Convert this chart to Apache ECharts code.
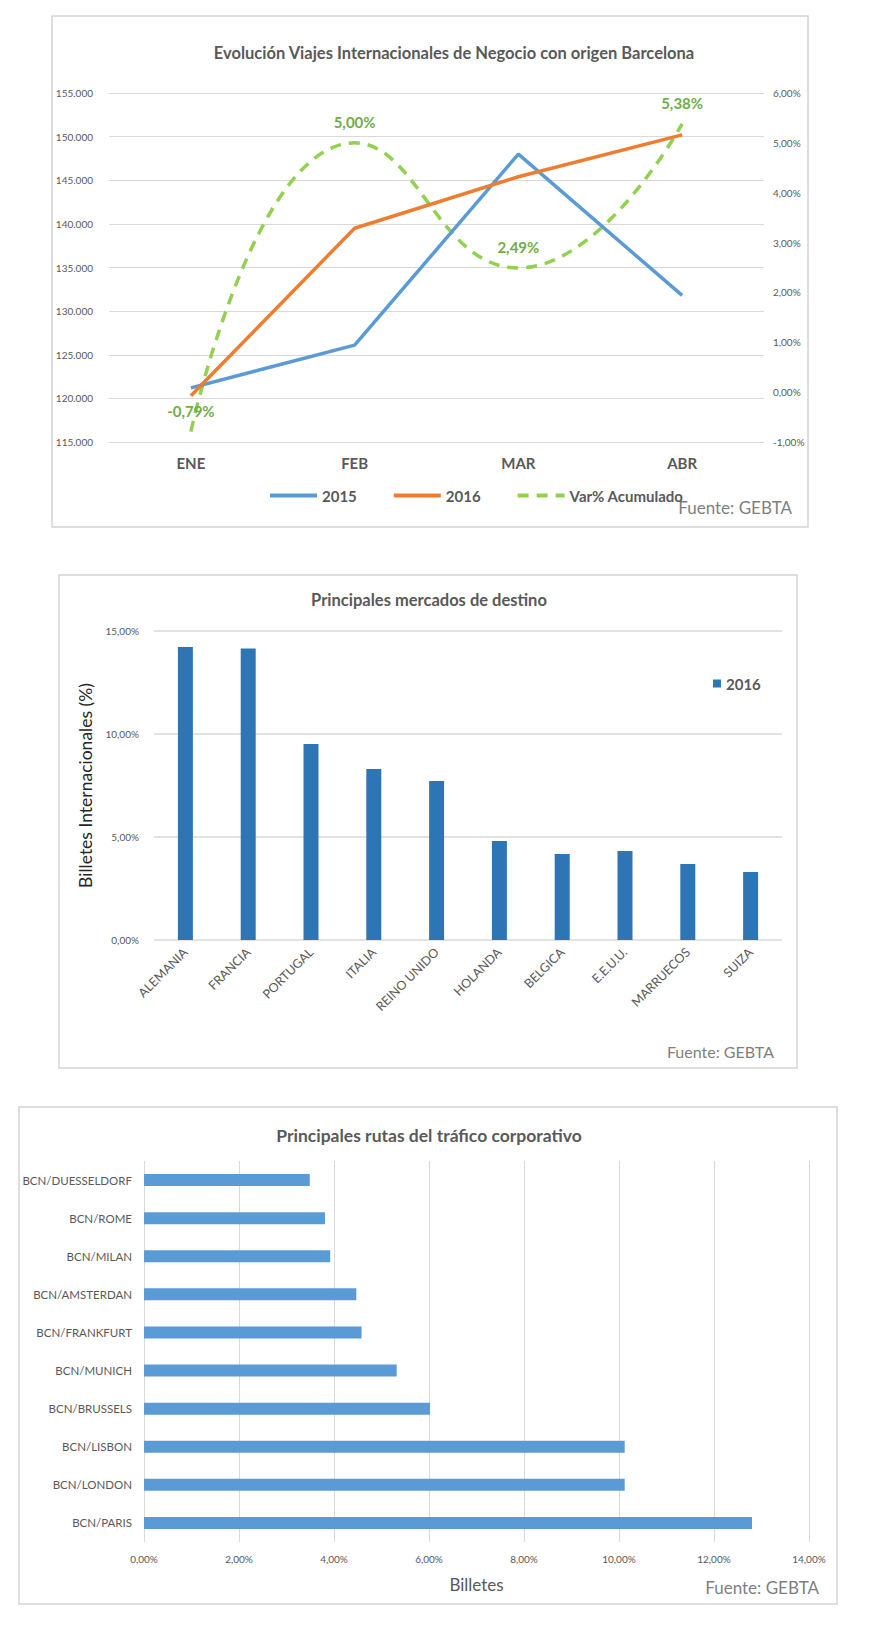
<!DOCTYPE html>
<html>
<head>
<meta charset="utf-8">
<script src="https://cdn.jsdelivr.net/npm/echarts@6/dist/echarts.min.js"></script>
<style>
html,body{margin:0;padding:0;background:#fff;}
#c{width:873px;height:1627px;}
</style>
</head>
<body>
<div id="c"></div>
<script>
// ---- Chart 1 data ----
const months = ['ENE', 'FEB', 'MAR', 'ABR'];
const viajes2015 = [121200, 126100, 148000, 131800];
const viajes2016 = [120300, 139500, 145400, 150200];
const varAcumulado = [-0.79, 5.00, 2.49, 5.38];

// ---- Chart 2 data ----
const mercados = ['ALEMANIA', 'FRANCIA', 'PORTUGAL', 'ITALIA', 'REINO UNIDO', 'HOLANDA', 'BELGICA', 'E.E.U.U.', 'MARRUECOS', 'SUIZA'];
const cuota2016 = [14.22, 14.15, 9.51, 8.30, 7.72, 4.81, 4.17, 4.32, 3.69, 3.30];

// ---- Chart 3 data ----
const rutas = ['BCN/DUESSELDORF', 'BCN/ROME', 'BCN/MILAN', 'BCN/AMSTERDAN', 'BCN/FRANKFURT', 'BCN/MUNICH', 'BCN/BRUSSELS', 'BCN/LISBON', 'BCN/LONDON', 'BCN/PARIS'];
const billetes = [3.49, 3.81, 3.92, 4.47, 4.58, 5.32, 6.02, 10.12, 10.12, 12.80];

const FONT = 'Lato, "Liberation Sans", sans-serif';
const GRAY = '#595959';
const GRID = '#d9d9d9';
const pct = v => v.toFixed(2).replace('.', ',') + '%';
const miles = v => String(v).replace(/\B(?=(\d{3})+(?!\d))/g, '.');

const chart = echarts.init(document.getElementById('c'), null, {renderer: 'svg'});

function box(x1, y1, x2, y2) {
  return {type: 'rect', shape: {x: x1, y: y1, width: x2 - x1, height: y2 - y1},
    style: {fill: 'none', stroke: '#d4d4d4', lineWidth: 1.5}, silent: true, z: -1};
}
function txt(x, y, text, size, weight, color, align) {
  return {type: 'text', x: x, y: y, silent: true,
    style: {text: text, font: weight + ' ' + size + 'px ' + FONT, fill: color,
      textAlign: align || 'center', textVerticalAlign: 'middle'}};
}

const option = {
  animation: false,
  textStyle: {fontFamily: FONT},
  graphic: [
    box(52, 16, 808, 527),
    box(59, 575, 797, 1068),
    box(19, 1107, 837, 1604),
    txt(454, 53, 'Evolución Viajes Internacionales de Negocio con origen Barcelona', 16.5, 'bold', GRAY),
    txt(429, 600, 'Principales mercados de destino', 16.5, 'bold', GRAY),
    txt(429, 1135, 'Principales rutas del tráfico corporativo', 17.5, 'bold', GRAY),
    txt(792, 507, 'Fuente: GEBTA', 17, 'normal', '#7f7f7f', 'right'),
    txt(774, 1051, 'Fuente: GEBTA', 16, 'normal', '#7f7f7f', 'right'),
    txt(819, 1587, 'Fuente: GEBTA', 17, 'normal', '#7f7f7f', 'right')
  ],
  legend: [
    {
      left: 263, top: 483, itemWidth: 47, itemHeight: 16, itemGap: 35,
      data: ['2015', '2016', 'Var% Acumulado'],
      itemStyle: {opacity: 0},
      lineStyle: {width: 4},
      textStyle: {fontSize: 15, fontWeight: 'bold', color: GRAY, fontFamily: FONT}
    },
    {
      left: 708, top: 671, itemWidth: 8, itemHeight: 8, icon: 'rect',
      data: ['2016 '],
      formatter: n => n.trim(),
      textStyle: {fontSize: 15, fontWeight: 'bold', color: GRAY, fontFamily: FONT}
    }
  ],
  grid: [
    {left: 109, right: 109, top: 93, height: 349},
    {left: 154, width: 628, top: 631, height: 309},
    {left: 144, width: 665, top: 1161, height: 381}
  ],
  xAxis: [
    {
      gridIndex: 0, type: 'category', data: months, boundaryGap: true,
      axisLine: {show: false}, axisTick: {show: false},
      axisLabel: {margin: 13, fontSize: 15, fontWeight: 'bold', color: GRAY}
    },
    {
      gridIndex: 1, type: 'category', data: mercados,
      axisLine: {show: false}, axisTick: {show: false},
      axisLabel: {interval: 0, rotate: 45, margin: 10, fontSize: 12.5, color: GRAY}
    },
    {
      gridIndex: 2, type: 'value', min: 0, max: 14, interval: 2,
      axisLine: {show: false}, axisTick: {show: false},
      splitLine: {show: true, lineStyle: {color: GRID, width: 1}},
      axisLabel: {margin: 12, fontSize: 10, color: GRAY, formatter: pct},
      name: 'Billetes', nameLocation: 'middle', nameGap: 34,
      nameTextStyle: {fontSize: 17, color: GRAY}
    }
  ],
  yAxis: [
    {
      gridIndex: 0, type: 'value', min: 115000, max: 155000, interval: 5000,
      axisLine: {show: false}, axisTick: {show: false},
      splitLine: {lineStyle: {color: GRID, width: 1}},
      axisLabel: {margin: 16, fontSize: 10, color: GRAY, formatter: miles}
    },
    {
      gridIndex: 0, type: 'value', min: -1, max: 6, interval: 1, position: 'right',
      axisLine: {show: false}, axisTick: {show: false}, splitLine: {show: false},
      axisLabel: {margin: 9, fontSize: 10, color: GRAY, formatter: pct}
    },
    {
      gridIndex: 1, type: 'value', min: 0, max: 15, interval: 5,
      axisLine: {show: false}, axisTick: {show: false},
      splitLine: {lineStyle: {color: GRID, width: 1.5}},
      axisLabel: {margin: 15, fontSize: 10, color: GRAY, formatter: pct},
      name: 'Billetes Internacionales (%)', nameLocation: 'middle', nameRotate: 90, nameGap: 50,
      nameTextStyle: {fontSize: 17.5, color: '#262626', fontWeight: 'normal'}
    },
    {
      gridIndex: 2, type: 'category', data: rutas, inverse: true,
      axisLine: {show: false}, axisTick: {show: false},
      axisLabel: {margin: 12, fontSize: 11.5, color: GRAY}
    }
  ],
  series: [
    {
      name: '2015', type: 'line', xAxisIndex: 0, yAxisIndex: 0, data: viajes2015,
      symbol: 'none', lineStyle: {color: '#5b9bd5', width: 3.5}, itemStyle: {color: '#5b9bd5'}
    },
    {
      name: '2016', type: 'line', xAxisIndex: 0, yAxisIndex: 0, data: viajes2016,
      symbol: 'none', lineStyle: {color: '#ed7d31', width: 3.5}, itemStyle: {color: '#ed7d31'}
    },
    {
      name: 'Var% Acumulado', type: 'line', xAxisIndex: 0, yAxisIndex: 1, data: varAcumulado,
      smooth: 0.5, symbol: 'circle', symbolSize: 1, showSymbol: true, z: 1,
      lineStyle: {color: '#92d050', width: 3.5, type: [11, 8]},
      itemStyle: {color: 'rgba(146,208,80,0)'},
      label: {show: true, position: 'top', distance: 13, fontSize: 15, fontWeight: 'bold',
        color: '#70ad47', formatter: p => pct(p.value)}
    },
    {
      name: '2016 ', type: 'bar', xAxisIndex: 1, yAxisIndex: 2, data: cuota2016,
      barWidth: 15, itemStyle: {color: '#2e75b6'}
    },
    {
      name: 'Billetes', type: 'bar', xAxisIndex: 2, yAxisIndex: 3, data: billetes,
      barWidth: 12, itemStyle: {color: '#5b9bd5'}
    }
  ]
};
chart.setOption(option);
</script>
</body>
</html>
